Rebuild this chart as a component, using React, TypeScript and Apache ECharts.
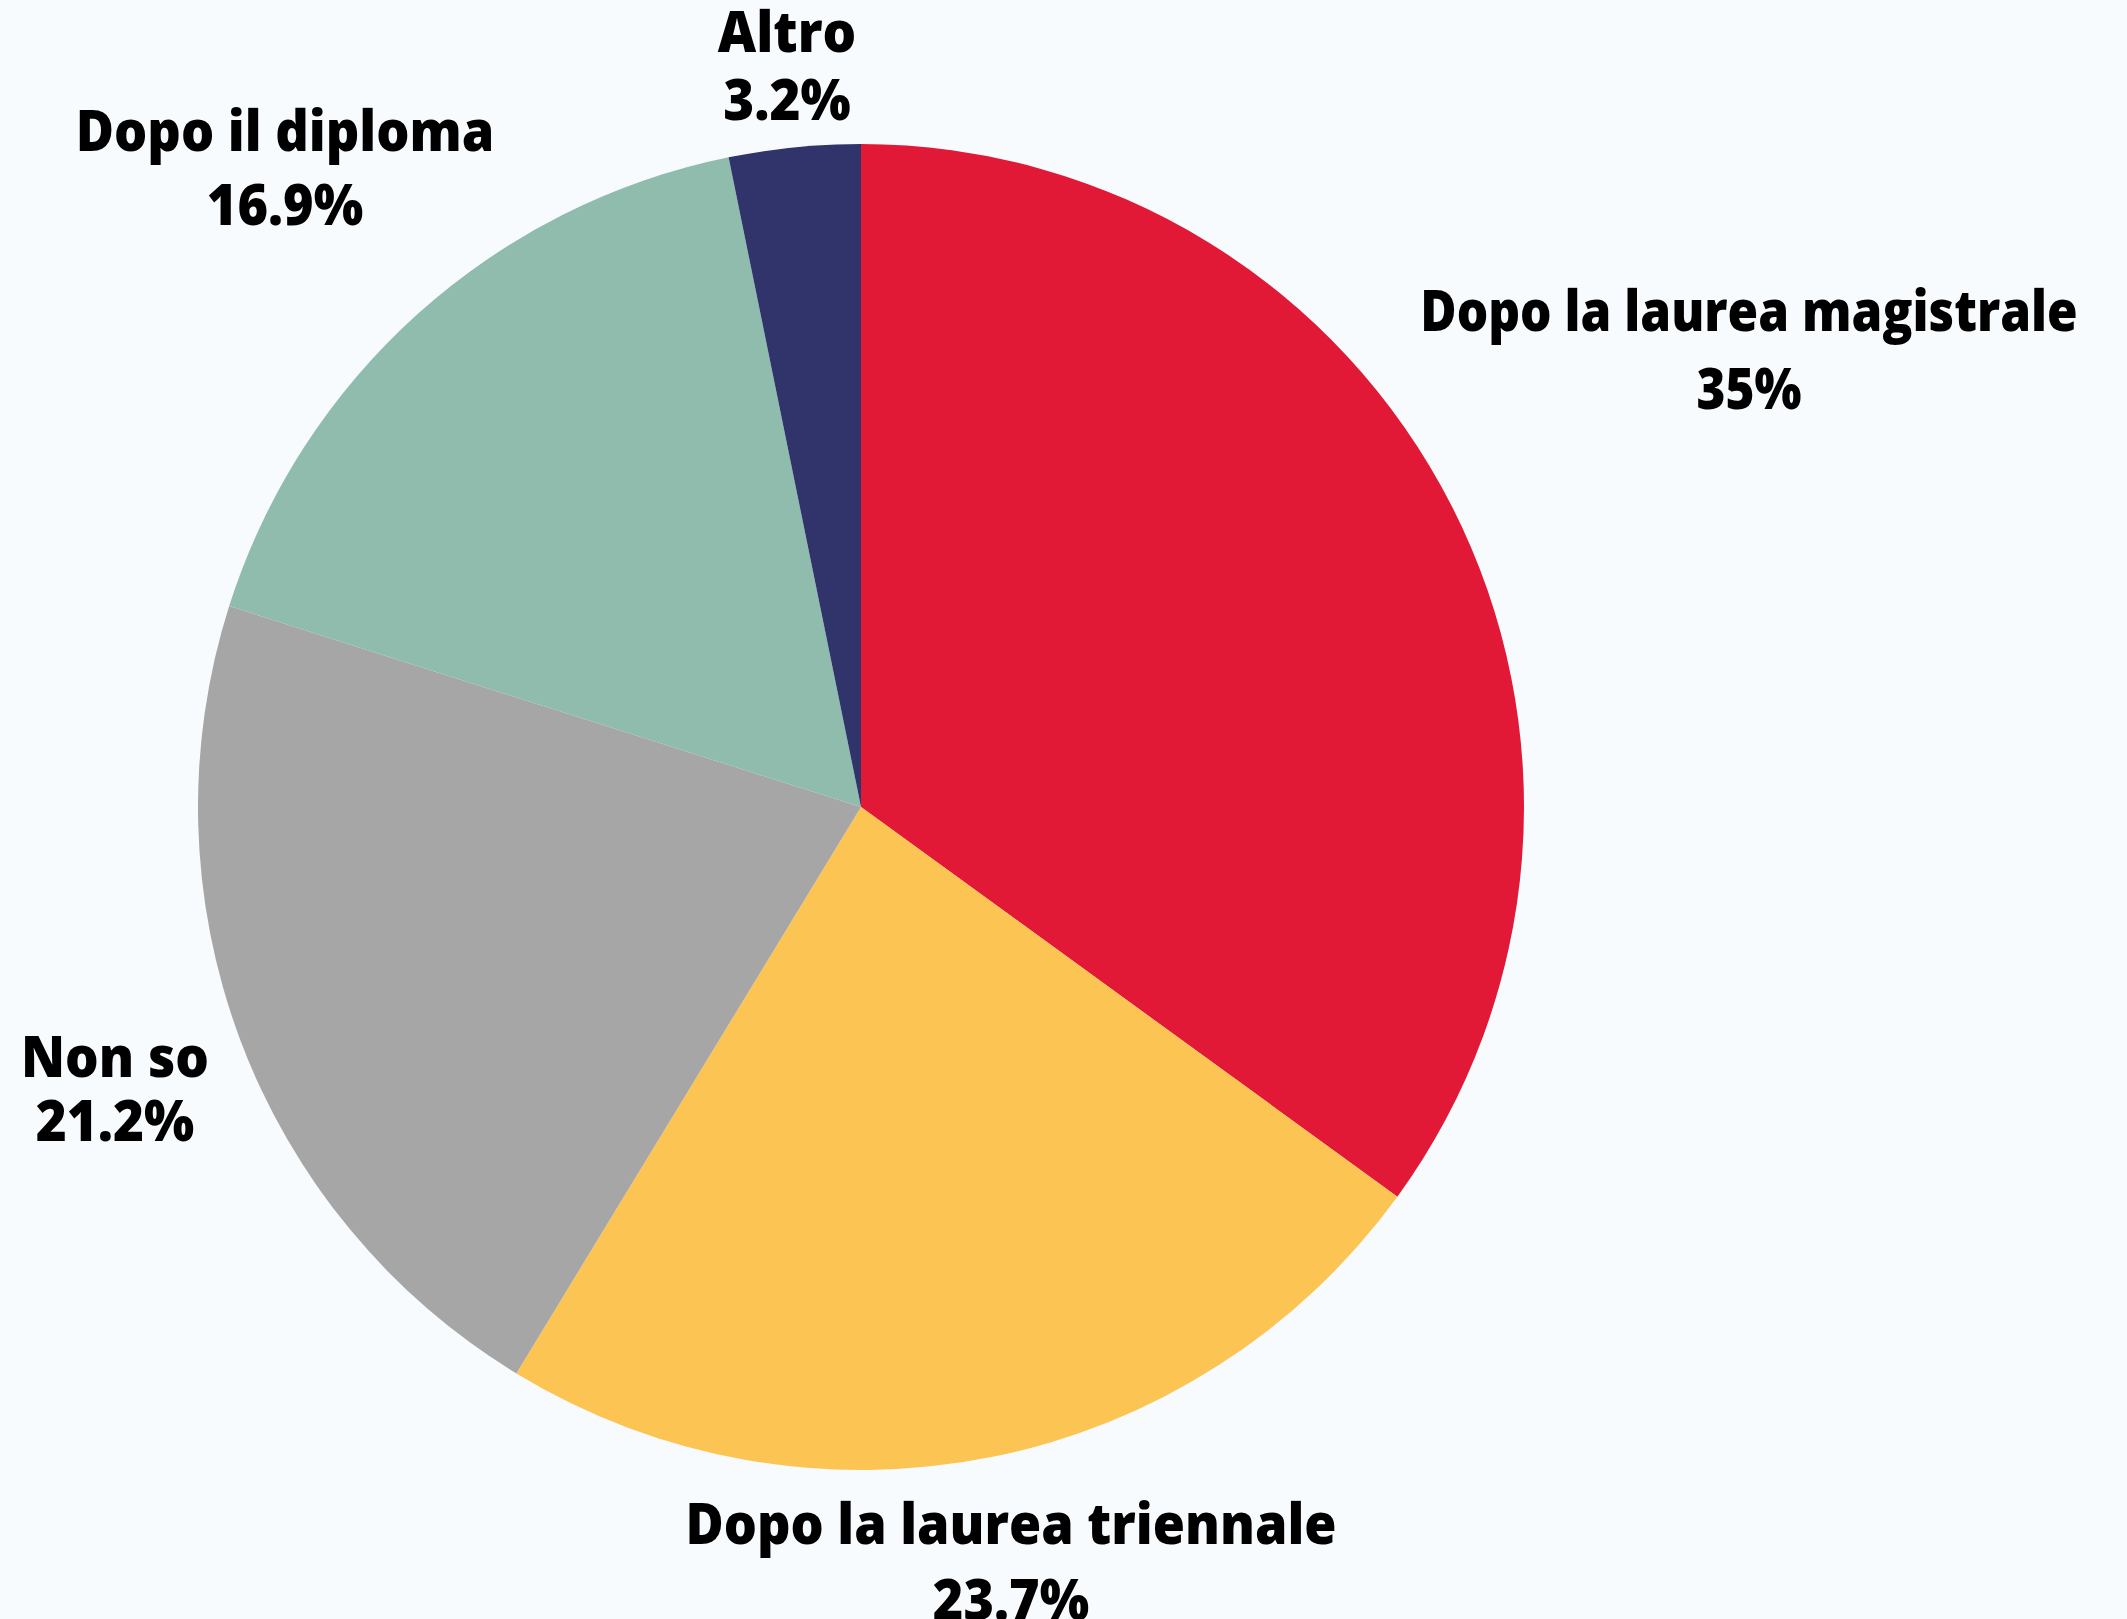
import React, { useEffect, useRef } from "react";
import * as echarts from "echarts";

const categories = [
  "Dopo la laurea magistrale",
  "Dopo la laurea triennale",
  "Non so",
  "Dopo il diploma",
  "Altro",
];
const values = [35, 23.7, 21.2, 16.9, 3.2];
const colors = ["#E21837", "#FCC453", "#A6A6A6", "#8FBCAD", "#30346A"];

// label placement: centre x, centre y, line height, horizontal scale
const labelX = [1749, 1011, 115, 285, 787];
const labelY = [348, 1560, 1087, 166, 64];
const labelLineHeight = [78, 76, 64, 74, 68];
const labelScale = [0.885, 0.932, 0.945, 0.933, 0.945];

const W = 2127;
const H = 1619;
const CX = 861;
const CY = 807;
const R = 663;

export default function App() {
  const ref = useRef<HTMLDivElement>(null);
  useEffect(() => {
    document.body.style.margin = "0";
    const chart = echarts.init(ref.current!, null, { renderer: "svg" });
    const texts = categories.map((name, i) => ({
      type: "text",
      x: labelX[i],
      y: labelY[i],
      scaleX: labelScale[i],
      style: {
        text: name + "\n" + values[i] + "%",
        fontFamily: "'Open Sans'",
        fontWeight: 800,
        fontSize: 56,
        lineHeight: labelLineHeight[i],
        fill: "#000000",
        align: "center",
        verticalAlign: "middle",
      },
    }));
    chart.setOption({
      animation: false,
      backgroundColor: "#F8FBFE",
      series: [
        {
          type: "pie",
          center: [CX, CY],
          radius: [0, R],
          startAngle: 90,
          clockwise: true,
          label: { show: false },
          labelLine: { show: false },
          emphasis: { disabled: true },
          itemStyle: { borderWidth: 0 },
          data: categories.map((name, i) => ({
            name,
            value: values[i],
            itemStyle: { color: colors[i] },
          })),
        },
      ],
      graphic: texts,
    });
    return () => chart.dispose();
  }, []);
  return <div ref={ref} style={{ width: W, height: H }} />;
}
